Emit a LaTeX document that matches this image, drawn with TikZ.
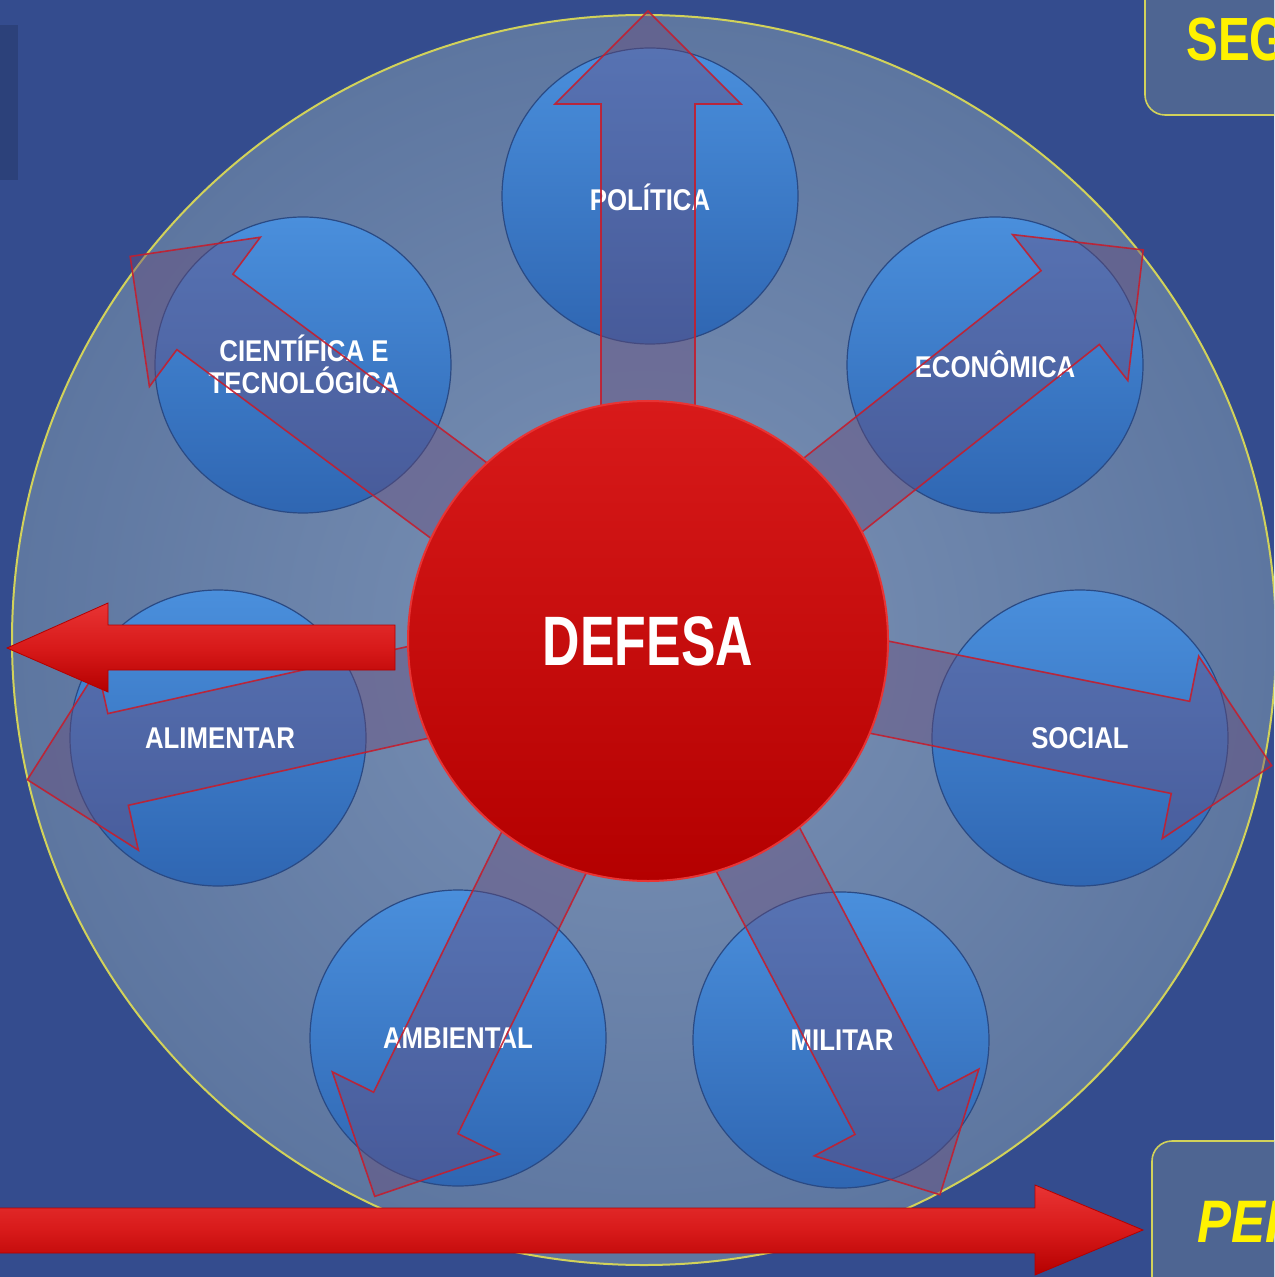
\documentclass[tikz,border=0pt]{standalone}
\usepackage{fontspec}
\setmainfont{Liberation Sans}
\usepackage{graphicx}
\usetikzlibrary{shapes.geometric}
\definecolor{cBgIn}{HTML}{4866AC}
\definecolor{cBgOut}{HTML}{344C8E}
\definecolor{cRingIn}{HTML}{7C93B6}
\definecolor{cRingOut}{HTML}{5D76A0}
\definecolor{cRingE}{HTML}{D2D25A}
\definecolor{cBlueT}{HTML}{4A8FDC}
\definecolor{cBlueB}{HTML}{2F66B2}
\definecolor{cBlueE}{HTML}{2A4A84}
\definecolor{cArw}{HTML}{6A4C7A}
\definecolor{cArwE}{HTML}{C41E2E}
\definecolor{cRedT}{HTML}{D81A1A}
\definecolor{cRedB}{HTML}{B40000}
\definecolor{cRedE}{HTML}{E83434}
\definecolor{cBox}{HTML}{4E6592}
\definecolor{cYel}{HTML}{FFF200}
\newcommand\hsq[2]{\scalebox{#1}[1]{#2}}
\newcommand\fatarw[3]{%
  \begin{scope}[shift={(o)},rotate=#1]
    \path[#3] (0,-47) -- ({#2-93},-47) -- ({#2-93},-93) -- (#2,0) -- ({#2-93},93) -- ({#2-93},47) -- (0,47) -- cycle;
  \end{scope}}
\begin{document}
\begin{tikzpicture}[x=0.5pt,y=-0.5pt,
  bluec/.style={circle, minimum size=148pt, inner sep=0pt, top color=cBlueT, bottom color=cBlueB, draw=cBlueE, line width=0.6pt},
  lbl/.style={text=white, font=\fontsize{15}{16}\selectfont\bfseries, inner sep=0pt, align=center},
  fatfill/.style={fill=cArw, fill opacity=0.42},
  fatline/.style={draw=cArwE, draw opacity=0.9, line width=0.8pt, line join=miter},
  solidarrow/.style={top color=cRedE, bottom color=cRedB, middle color=cRedT, draw=cRedB, line width=0.4pt},
  boxst/.style={fill=cBox, draw=cRingE, line width=0.8pt, rounded corners=10pt},
  boxtxt/.style={text=cYel, inner sep=0pt, anchor=west}]
\useasboundingbox (0,0) rectangle (1274,1277);
\clip (0,0) rectangle (1274,1277);
% background
\fill[inner color=cBgIn, outer color=cBgOut] (0,0) rectangle (1274,1277);
\fill[cBgOut!70!black, opacity=0.45] (0,25) rectangle (18,180);
% big translucent ring
\node[ellipse, minimum width=632pt, minimum height=625pt, inner sep=0pt,
      inner color=cRingIn, outer color=cRingOut, draw=cRingE, line width=1pt] (ring) at (644,640) {};
\coordinate (o) at (648,641);
% satellite circles
\node[bluec] (pol) at (650,196) {};
\node[bluec] (eco) at (995,365) {};
\node[bluec] (soc) at (1080,738) {};
\node[bluec] (mil) at (841,1040) {};
\node[bluec] (amb) at (458,1038) {};
\node[bluec] (ali) at (218,738) {};
\node[bluec] (cie) at (303,365) {};
% translucent arrow bodies
\foreach \a/\l in {90/630, 38.3/631, -11.3/636, -62.2/626, -116.2/619, -167.4/636, 143.4/645}
  {\fatarw{\a}{\l}{fatfill}}
% labels
\node[lbl] (polt) at (650,197) {\hsq{0.86}{POLÍTICA}};
\node[lbl] (ecot) at (995,364) {\hsq{0.86}{ECONÔMICA}};
\node[lbl] (soct) at (1080,738) {\hsq{0.86}{SOCIAL}};
\node[lbl] (milt) at (842,1040) {\hsq{0.86}{MILITAR}};
\node[lbl] (ambt) at (458,1038) {\hsq{0.86}{AMBIENTAL}};
\node[lbl] (alit) at (220,738) {\hsq{0.86}{ALIMENTAR}};
\node[lbl] (ciet) at (304,364) {\hsq{0.86}{CIENTÍFICA E}\\\hsq{0.86}{TECNOLÓGICA}};
% translucent arrow outlines
\foreach \a/\l in {90/630, 38.3/631, -11.3/636, -62.2/626, -116.2/619, -167.4/636, 143.4/645}
  {\fatarw{\a}{\l}{fatline}}
% central circle
\node[circle, minimum size=240pt, inner sep=0pt, top color=cRedT, bottom color=cRedB,
      draw=cRedE, line width=1pt, text=white,
      font=\fontsize{35}{40}\selectfont\bfseries] (def) at (o) {\hsq{0.74}{DEFESA}};
% solid red arrows
\coordinate (ltip) at (7,648);
\path[solidarrow] (395,625) -- (108,625) -- (108,603) -- (ltip) -- (108,692) -- (108,670) -- (395,670) -- cycle;
\coordinate (btip) at (1143,1230);
\path[solidarrow] (-10,1208) -- (1035,1208) -- (1035,1185) -- (btip) -- (1035,1275) -- (1035,1253) -- (-10,1253) -- cycle;
% boxes
\draw[boxst] (1145,-40) rectangle (1330,115);
\node[boxtxt, font=\fontsize{30.5}{34}\selectfont\bfseries] (seg) at (1186,40) {\hsq{0.78}{SEG}};
\draw[boxst] (1152,1141) rectangle (1330,1330);
\node[boxtxt, font=\fontsize{30}{34}\selectfont\bfseries\itshape] (per) at (1197,1222) {\hsq{0.85}{PER}};
\end{tikzpicture}
\end{document}
